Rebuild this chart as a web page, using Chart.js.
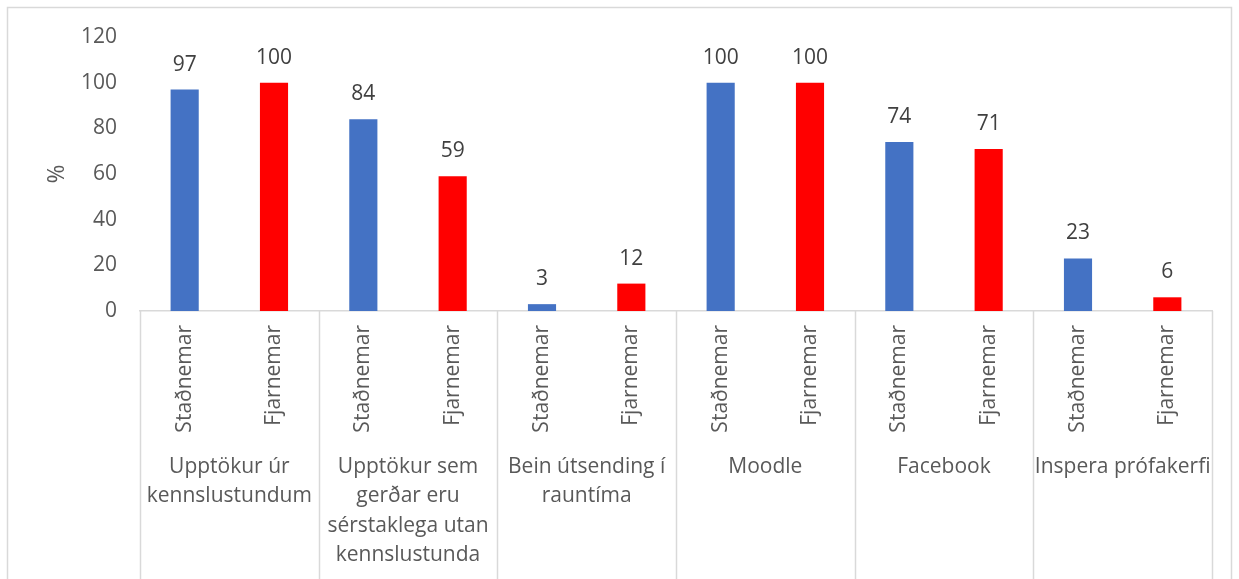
<!DOCTYPE html>
<html>
<head>
<meta charset="utf-8">
<script src="https://cdn.jsdelivr.net/npm/chart.js@4"></script>
<style>
  html, body { margin: 0; padding: 0; background: #ffffff; }
  #wrap { width: 1239px; height: 579px; position: relative; }
</style>
</head>
<body>
<div id="wrap"><canvas id="c" width="1239" height="579"></canvas></div>
<script>
// ---- Data ----
const groups = [
  ["Upptökur úr", "kennslustundum"],
  ["Upptökur sem", "gerðar eru", "sérstaklega utan", "kennslustunda"],
  ["Bein útsending í", "rauntíma"],
  ["Moodle"],
  ["Facebook"],
  ["Inspera prófakerfi"]
];
const subLabels = ["Staðnemar", "Fjarnemar"];
const stadnemar = [97, 84, 3, 100, 74, 23];
const fjarnemar = [100, 59, 12, 100, 71, 6];
const yTicks = [0, 20, 40, 60, 80, 100, 120];
const yTitle = "%";

// ---- Build library structures ----
const labels = [];
const values = [];
const colors = [];
groups.forEach((g, i) => {
  labels.push(subLabels[0]); values.push(stadnemar[i]); colors.push('#4472C4');
  labels.push(subLabels[1]); values.push(fjarnemar[i]); colors.push('#FF0000');
});

const FONT = "'Open Sans', 'DejaVu Sans', sans-serif";
const TXT = '#595959';
const FS = 21;

const framePlugin = {
  id: 'frame',
  beforeDraw(chart) {
    const ctx = chart.ctx;
    ctx.save();
    ctx.strokeStyle = '#D9D9D9';
    ctx.lineWidth = 1.5;
    ctx.strokeRect(7.5, 7.5, 1224, 640);
    ctx.restore();
  }
};

const overlayPlugin = {
  id: 'overlay',
  afterDraw(chart) {
    const ctx = chart.ctx;
    const x = chart.scales.x;
    const area = chart.chartArea;
    const meta = chart.getDatasetMeta(0);
    ctx.save();
    // value labels
    ctx.font = FS + 'px ' + FONT;
    ctx.fillStyle = '#404040';
    ctx.textAlign = 'center';
    ctx.textBaseline = 'middle';
    meta.data.forEach((bar, i) => {
      ctx.fillText(String(values[i]), bar.x, bar.y - 25);
    });
    // group separators
    ctx.strokeStyle = '#D9D9D9';
    ctx.lineWidth = 1.5;
    const step = x.getPixelForValue(1) - x.getPixelForValue(0);
    for (let g = 0; g <= groups.length; g++) {
      const px = Math.round(x.getPixelForValue(g * 2) - step / 2) + 0.5;
      ctx.beginPath();
      ctx.moveTo(px, area.bottom);
      ctx.lineTo(px, chart.height);
      ctx.stroke();
    }
    // group labels
    ctx.fillStyle = TXT;
    ctx.font = FS + 'px ' + FONT;
    groups.forEach((lines, g) => {
      const cx = (x.getPixelForValue(g * 2) + x.getPixelForValue(g * 2 + 1)) / 2;
      lines.forEach((ln, k) => {
        ctx.fillText(ln, cx, 467 + k * 29.5);
      });
    });
    ctx.restore();
  }
};

new Chart(document.getElementById('c'), {
  type: 'bar',
  data: {
    labels: labels,
    datasets: [{
      data: values,
      backgroundColor: colors,
      borderWidth: 0,
      barPercentage: 0.315,
      categoryPercentage: 1.0
    }]
  },
  options: {
    responsive: false,
    devicePixelRatio: 1,
    animation: false,
    layout: { padding: { top: 37, right: 27, bottom: 0, left: 0 } },
    plugins: { legend: { display: false }, tooltip: { enabled: false } },
    scales: {
      x: {
        grid: { display: false, drawTicks: false },
        border: { display: true, color: '#D9D9D9', width: 1.5 },
        ticks: {
          autoSkip: false,
          minRotation: 90,
          maxRotation: 90,
          padding: 14,
          color: TXT,
          font: { family: FONT, size: FS }
        },
        afterFit(scale) { scale.height = 268; }
      },
      y: {
        min: 0,
        max: 120,
        afterBuildTicks(scale) { scale.ticks = yTicks.map(v => ({ value: v })); },
        grid: { display: false, drawTicks: false },
        border: { display: false },
        ticks: {
          padding: 23,
          color: TXT,
          font: { family: FONT, size: FS }
        },
        title: {
          display: true,
          text: yTitle,
          color: TXT,
          font: { family: FONT, size: 23 },
          padding: { top: 44, bottom: 0 }
        },
        afterFit(scale) { scale.width = 140; }
      }
    }
  },
  plugins: [framePlugin, overlayPlugin]
});
</script>
</body>
</html>
